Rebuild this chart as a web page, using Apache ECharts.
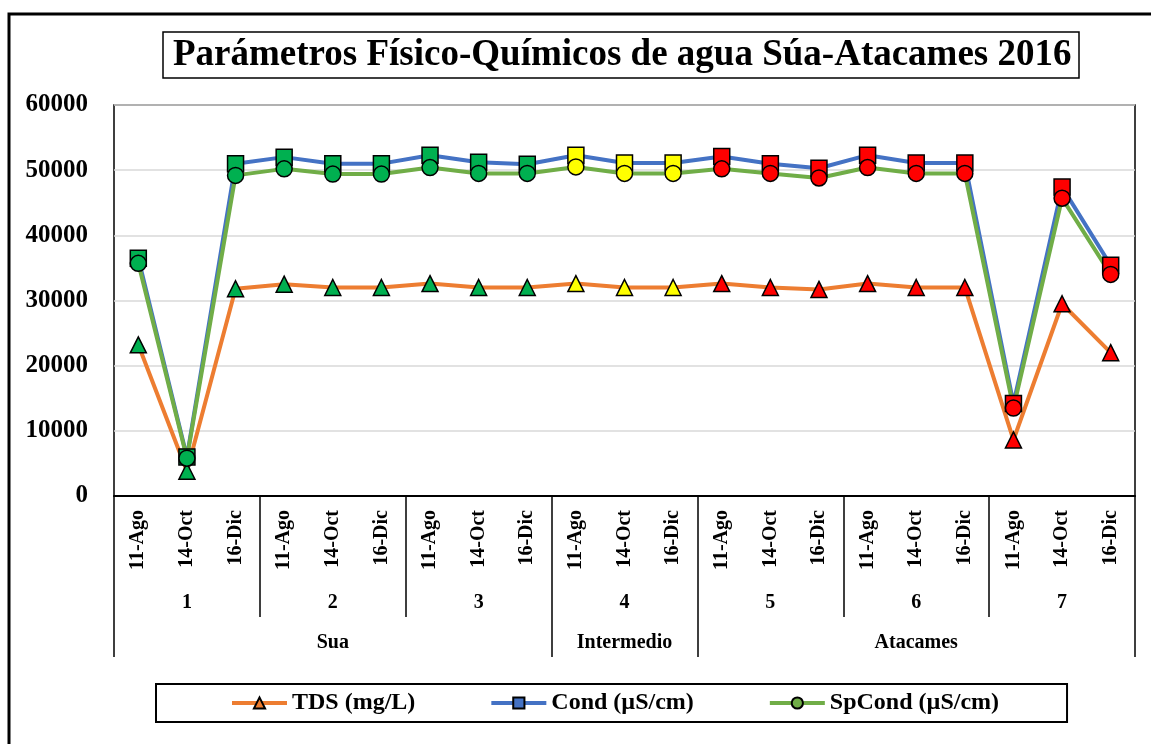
<!DOCTYPE html>
<html>
<head>
<meta charset="utf-8">
<script src="https://cdn.jsdelivr.net/npm/echarts@6/dist/echarts.min.js"></script>
<style>
    html, body { margin: 0; padding: 0; background: #fff; }
    #chart { width: 1151px; height: 744px; }
</style>
</head>
<body>
<div id="chart"></div>
<script>
const dates = ['11-Ago', '14-Oct', '16-Dic']
const stations = ['1', '2', '3', '4', '5', '6', '7']
const zones = ['Sua', 'Sua', 'Sua', 'Intermedio', 'Atacames', 'Atacames', 'Atacames']
const stationColors = ['#00B050', '#00B050', '#00B050', '#FFFF00', '#FF0000', '#FF0000', '#FF0000']

// one value per station and date, in the order 11-Ago, 14-Oct, 16-Dic
const tds = [
    23200, 3800, 31800,
    32500, 32000, 32000,
    32600, 32000, 32000,
    32600, 32000, 32000,
    32600, 32000, 31700,
    32600, 32000, 32000,
    8600, 29500, 22000,
]
const cond = [
    36500, 6000, 51000,
    52000, 51000, 51000,
    52300, 51200, 50900,
    52300, 51100, 51100,
    52100, 51000, 50300,
    52300, 51100, 51100,
    14200, 47400, 35400,
]
const spCond = [
    35700, 5800, 49200,
    50200, 49400, 49400,
    50400, 49500, 49500,
    50500, 49500, 49500,
    50200, 49500, 48800,
    50400, 49500, 49500,
    13500, 45700, 34000,
]

const font = 'Liberation Serif'

var categories = []
var zoneOfCat = []
stations.forEach(function (s, i) {
    dates.forEach(function (d) {
        categories.push(d)
        zoneOfCat.push(zones[i])
    })
})

function zoneLabelIndex(index) {
    // label in the middle of each zone's run of categories
    var start = index
    while (start > 0 && zoneOfCat[start - 1] === zoneOfCat[index]) start--
    var end = index
    while (end < zoneOfCat.length - 1 && zoneOfCat[end + 1] === zoneOfCat[index]) end++
    return index === Math.floor((start + end) / 2)
}

function coloredData(values) {
    return values.map(function (v, i) {
        return { value: v, itemStyle: { color: stationColors[Math.floor(i / 3)] } }
    })
}

function lineSeries(name, values, color, symbol) {
    return {
        name: name,
        type: 'line',
        data: coloredData(values),
        symbol: symbol,
        symbolSize: 16,
        lineStyle: { color: color, width: 4 },
        itemStyle: { color: color, borderColor: '#000', borderWidth: 1.5 },
        z: 2,
    }
}

var chart = echarts.init(document.getElementById('chart'))
var option = {
    animation: false,
    backgroundColor: '#fff',
    title: {
        text: 'Parámetros Físico-Químicos de agua Súa-Atacames 2016',
        left: 163,
        top: 32,
        padding: [5, 8, 4, 10],
        borderColor: '#000',
        borderWidth: 1.5,
        textStyle: { fontFamily: font, fontWeight: 'bold', fontSize: 37, color: '#000' },
    },
    legend: {
        left: 156,
        top: 684,
        padding: [7, 68, 7, 74],
        itemGap: 74,
        itemWidth: 55,
        itemHeight: 14,
        lineStyle: { width: 4 },
        borderColor: '#000',
        borderWidth: 2,
        textStyle: { fontFamily: font, fontWeight: 'bold', fontSize: 24, color: '#000' },
    },
    grid: {
        left: 114,
        right: 16,
        top: 105,
        bottom: 248,
        show: true,
        borderColor: '#000',
        borderWidth: 1.5,
    },
    xAxis: [
        {
            type: 'category',
            data: categories,
            axisLine: { lineStyle: { color: '#000', width: 2 } },
            axisTick: { show: false },
            axisLabel: {
                rotate: 90, margin: 14, interval: 0,
                fontFamily: font, fontWeight: 'bold', fontSize: 20, color: '#000',
            },
        },
        {
            type: 'category',
            position: 'bottom',
            data: stations,
            axisLine: { show: false },
            axisTick: { show: true, length: 121, lineStyle: { color: '#000', width: 1.5 } },
            axisLabel: { margin: 97, fontFamily: font, fontWeight: 'bold', fontSize: 20, color: '#000' },
        },
        {
            type: 'category',
            position: 'bottom',
            data: categories,
            axisLine: { show: false },
            axisTick: {
                show: true, length: 161,
                interval: function (index) {
                    return index === 0 || zoneOfCat[index] !== zoneOfCat[index - 1]
                },
                lineStyle: { color: '#000', width: 1.5 },
            },
            axisLabel: {
                margin: 137,
                interval: function (index) { return zoneLabelIndex(index) },
                formatter: function (v, index) { return zoneOfCat[index] },
                fontFamily: font, fontWeight: 'bold', fontSize: 20, color: '#000',
            },
        },
    ],
    yAxis: {
        type: 'value',
        min: 0,
        max: 60000,
        interval: 10000,
        axisLine: { show: false },
        axisTick: { show: false },
        splitLine: { lineStyle: { color: '#d9d9d9', width: 1.5 } },
        axisLabel: {
            margin: 26,
            formatter: function (v) { return String(v) },
            fontFamily: font, fontWeight: 'bold', fontSize: 25, color: '#000',
        },
    },
    graphic: [
        {
            type: 'rect',
            shape: { x: 9, y: 14, width: 1160, height: 760 },
            style: { fill: 'none', stroke: '#000', lineWidth: 3 },
            silent: true,
        },
    ],
    series: [
        lineSeries('TDS (mg/L)', tds, '#ED7D31', 'triangle'),
        lineSeries('Cond (µS/cm)', cond, '#4472C4', 'rect'),
        lineSeries('SpCond (µS/cm)', spCond, '#70AD47', 'circle'),
    ],
}
option && chart.setOption(option)
</script>
</body>
</html>
